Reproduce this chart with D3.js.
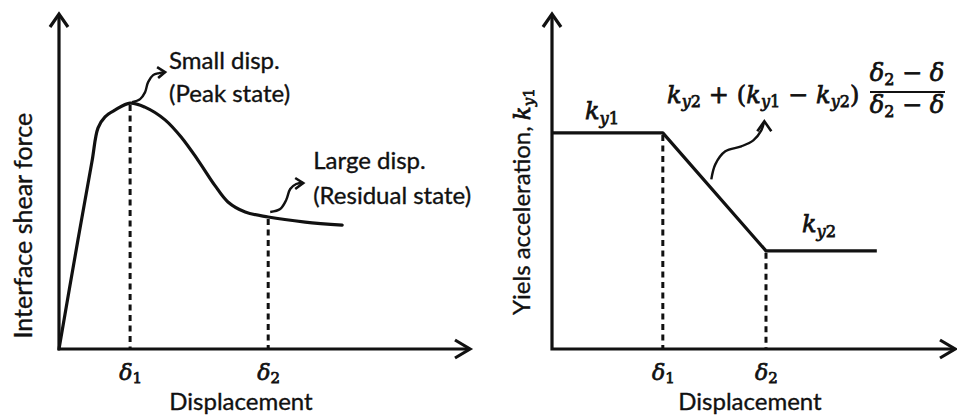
<!DOCTYPE html>
<html>
<head>
<meta charset="utf-8">
<script src="https://cdn.jsdelivr.net/npm/d3@7/dist/d3.min.js"></script>
<style>
  html, body { margin: 0; padding: 0; background: #fff; }
  svg { display: block; }
  .lbl { font-family: Lato, "Open Sans", sans-serif; fill: #111; stroke: #111; stroke-width: 0.35px; }
  .math { font-family: "DejaVu Serif", "Liberation Serif", serif; font-style: italic; fill: #111; stroke: #111; stroke-width: 0.75px; }
  .up { font-style: normal; }
</style>
</head>
<body>
<svg id="chart" width="957" height="416"></svg>
<script>
// Left panel: interface shear force vs displacement (arbitrary units)
const shearDisp  = [0, 4.6, 8.0, 9.5, 11.2, 13.6, 17.3, 20.9, 25.8, 29.9, 33.8, 38.0, 41.1, 45.3, 50.9, 59.9, 68.9];
const shearForce = [0, 32.5, 55.8, 66.0, 69.3, 71.3, 73.4, 72.2, 68.4, 63.0, 56.4, 48.7, 43.9, 40.9, 39.4, 37.9, 37.0];
const shearDeltas = [17.3, 50.9];   // δ1 (peak), δ2 (residual)

// Right panel: yield acceleration vs displacement
const yieldDisp = [0, 27.5, 53.1, 80.6];
const yieldAcc  = [64.5, 64.5, 29.3, 29.3];
const yieldDeltas = [27.5, 53.1];

const deltaLabels = ["1", "2"];
const axisTitles = ["Interface shear force", "Yiels acceleration, "];
const xTitle = "Displacement";

const svg = d3.select("#chart");
svg.append("rect").attr("width", 957).attr("height", 416).attr("fill", "#fff");

const xL = d3.scaleLinear().domain([0, 100]).range([59, 470]);
const yL = d3.scaleLinear().domain([0, 100]).range([349, 14]);
const xR = d3.scaleLinear().domain([0, 100]).range([552, 955]);
const yR = d3.scaleLinear().domain([0, 100]).range([349, 14]);

const INK = "#111";

function axesWithArrows(x, y) {
  const g = svg.append("g");
  const x0 = x(0), y0 = y(0), xEnd = x.range()[1], yEnd = y.range()[1];
  g.append("path")
    .attr("d", `M${x0},${yEnd} L${x0},${y0} L${xEnd},${y0}`)
    .attr("fill", "none").attr("stroke", INK).attr("stroke-width", 3.2);
  // open chevron heads
  g.append("path")
    .attr("d", `M${x0 - 9},${yEnd + 13} L${x0},${yEnd} L${x0 + 9},${yEnd + 13}`)
    .attr("fill", "none").attr("stroke", INK).attr("stroke-width", 3.2);
  g.append("path")
    .attr("d", `M${xEnd - 15},${y0 - 9} L${xEnd},${y0} L${xEnd - 15},${y0 + 9}`)
    .attr("fill", "none").attr("stroke", INK).attr("stroke-width", 3.2);
  return g;
}

function deltaTicks(x, y, deltas) {
  const ax = d3.axisBottom(x).tickValues(deltas).tickSize(0).tickFormat("");
  const g = svg.append("g").attr("transform", `translate(0,${y(0)})`).call(ax);
  g.select(".domain").remove();
  g.selectAll(".tick").each(function (d, i) {
    const t = d3.select(this).append("text")
      .attr("class", "math").attr("y", 31).attr("x", 0)
      .attr("text-anchor", "middle").attr("font-size", 22);
    t.append("tspan").text("δ");
    t.append("tspan").attr("class", "up").attr("font-size", 15).attr("dy", 3).text(deltaLabels[i]);
  });
}

function dashed(x, y, xv, yv) {
  svg.append("line")
    .attr("x1", x(xv)).attr("x2", x(xv))
    .attr("y1", y(yv) + 2).attr("y2", y(0))
    .attr("stroke", INK).attr("stroke-width", 3)
    .attr("stroke-dasharray", "6,4.5");
}

function squiggle(ax, ay, pts, arms) {
  const line = d3.line().curve(d3.curveCatmullRom.alpha(0.5));
  svg.append("path")
    .attr("d", line(pts.map(p => [ax + p[0], ay + p[1]])))
    .attr("fill", "none").attr("stroke", INK).attr("stroke-width", 2.4);
  const tip = pts[pts.length - 1];
  svg.append("path")
    .attr("d", `M${ax + tip[0] + arms[0][0]},${ay + tip[1] + arms[0][1]} L${ax + tip[0]},${ay + tip[1]} L${ax + tip[0] + arms[1][0]},${ay + tip[1] + arms[1][1]}`)
    .attr("fill", "none").attr("stroke", INK).attr("stroke-width", 2.6);
}

// ---------- left panel ----------
axesWithArrows(xL, yL);
shearDeltas.forEach(d => {
  const idx = shearDisp.indexOf(d);
  dashed(xL, yL, d, shearForce[idx]);
});
svg.append("path")
  .datum(shearDisp.map((d, i) => [d, shearForce[i]]))
  .attr("d", d3.line().x(d => xL(d[0])).y(d => yL(d[1])).curve(d3.curveCatmullRom.alpha(0.5)))
  .attr("fill", "none").attr("stroke", INK).attr("stroke-width", 3.2)
  .attr("stroke-linejoin", "round").attr("stroke-linecap", "round");
deltaTicks(xL, yL, shearDeltas);

svg.append("text").attr("class", "lbl")
  .attr("transform", `translate(32,${yL(36.8)}) rotate(-90)`)
  .attr("text-anchor", "middle").attr("font-size", 25).text(axisTitles[0]);
svg.append("text").attr("class", "lbl")
  .attr("x", 241).attr("y", 410)
  .attr("text-anchor", "middle").attr("font-size", 24).text(xTitle);

// annotations
const peakX = xL(shearDeltas[0]), peakY = yL(shearForce[shearDisp.indexOf(shearDeltas[0])]);
squiggle(peakX, peakY, [[2, -1], [10, -4], [15, -11], [18, -21], [23, -28], [29, -30], [35, -31]], [[-8, -5], [-7, 6]]);
svg.append("text").attr("class", "lbl").attr("font-size", 24)
  .attr("x", peakX + 39).attr("y", 69).text("Small disp.");
svg.append("text").attr("class", "lbl").attr("font-size", 24)
  .attr("x", peakX + 39).attr("y", 102).text("(Peak state)");

const resX = xL(shearDeltas[1]), resY = yL(shearForce[shearDisp.indexOf(shearDeltas[1])]);
squiggle(resX, resY, [[2, -5], [12, -8], [18, -17], [22, -28], [28, -33], [35, -34]], [[-8, -5], [-8, 6]]);
svg.append("text").attr("class", "lbl").attr("font-size", 24)
  .attr("x", resX + 45).attr("y", 169).text("Large disp.");
svg.append("text").attr("class", "lbl").attr("font-size", 24)
  .attr("x", resX + 45).attr("y", 204).text("(Residual state)");

// ---------- right panel ----------
axesWithArrows(xR, yR);
yieldDeltas.forEach(d => {
  const idx = yieldDisp.indexOf(d);
  dashed(xR, yR, d, yieldAcc[idx]);
});
svg.append("path")
  .datum(yieldDisp.map((d, i) => [d, yieldAcc[i]]))
  .attr("d", d3.line().x(d => xR(d[0])).y(d => yR(d[1])))
  .attr("fill", "none").attr("stroke", INK).attr("stroke-width", 3.2)
  .attr("stroke-linejoin", "round");
deltaTicks(xR, yR, yieldDeltas);

svg.append("text").attr("class", "lbl")
  .attr("x", 750).attr("y", 410)
  .attr("text-anchor", "middle").attr("font-size", 24).text(xTitle);

// y title with math subscript
const yt = svg.append("text")
  .attr("transform", `translate(530,${yR(44)}) rotate(-90)`)
  .attr("text-anchor", "middle");
yt.append("tspan").attr("class", "lbl").attr("font-size", 24).text(axisTitles[1]);
yt.append("tspan").attr("class", "math").attr("font-size", 23).text("k");
yt.append("tspan").attr("class", "math").attr("font-size", 15).attr("dy", 4).text("y");
yt.append("tspan").attr("class", "math up").attr("font-size", 15).text("1");

function kLabel(x, y, sub, size) {
  const t = svg.append("text").attr("class", "math").attr("x", x).attr("y", y).attr("font-size", size);
  t.append("tspan").text("k");
  t.append("tspan").attr("font-size", size * 0.68).attr("dy", size * 0.2).text("y");
  t.append("tspan").attr("class", "up").attr("font-size", size * 0.68).text(sub);
  return t;
}
kLabel(xR(yieldDisp[0]) + 33, yR(yieldAcc[0]) - 14, "1", 24);
kLabel(xR(yieldDisp[2]) + 36, yR(yieldAcc[2]) - 19, "2", 24);

// slope formula
const f = svg.append("text").attr("class", "math").attr("x", 667).attr("y", 103)
  .attr("font-size", 24).attr("letter-spacing", 0.1);
const sub = (t, s) => {
  t.append("tspan").attr("font-size", 16).attr("dy", 4).text("y");
  t.append("tspan").attr("class", "up").attr("font-size", 16).text(s);
};
f.append("tspan").text("k"); sub(f, "2");
f.append("tspan").attr("dy", -4).attr("class", "up").text(" + (");
f.append("tspan").text("k"); sub(f, "1");
f.append("tspan").attr("dy", -4).attr("class", "up").text(" − ");
f.append("tspan").text("k"); sub(f, "2");
f.append("tspan").attr("dy", -4).attr("class", "up").text(")");

function fracRow(y) {
  const t = svg.append("text").attr("class", "math").attr("x", 907).attr("y", y)
    .attr("text-anchor", "middle").attr("font-size", 24);
  t.append("tspan").text("δ");
  t.append("tspan").attr("class", "up").attr("font-size", 16).attr("dy", 4).text("2");
  t.append("tspan").attr("dy", -4).attr("class", "up").text(" − ");
  t.append("tspan").text("δ");
}
fracRow(81);
fracRow(113);
svg.append("line").attr("x1", 870).attr("x2", 945).attr("y1", 92).attr("y2", 92)
  .attr("stroke", INK).attr("stroke-width", 2.2);

// arrow from the sloped segment up to the formula
const tMid = 0.47;
const sx = xR(yieldDisp[1] + tMid * (yieldDisp[2] - yieldDisp[1]));
const sy = yR(yieldAcc[1] + tMid * (yieldAcc[2] - yieldAcc[1]));
squiggle(sx, sy, [[0, -9], [4, -24], [14, -37], [30, -42], [42, -48], [50, -58], [53, -67]], [[-7, 10], [7, 10]]);
</script>
</body>
</html>
